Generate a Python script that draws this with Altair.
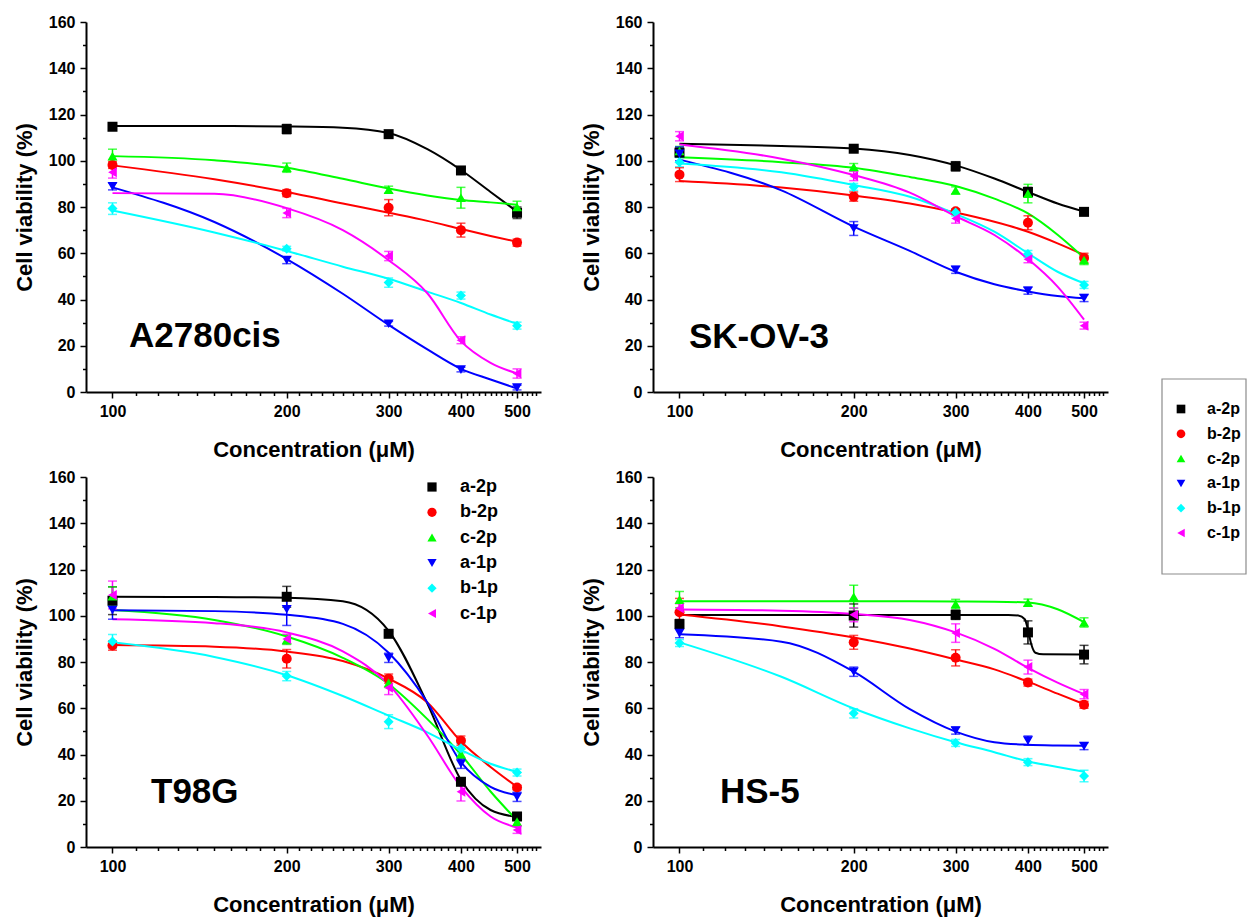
import altair as alt
import pandas as pd

FONT = "Liberation Sans, Arial, sans-serif"

SERIES = ["a-2p", "b-2p", "c-2p", "a-1p", "b-1p", "c-1p"]
COLORS = ["#000000", "#FF0000", "#00FF00", "#0000FF", "#00FFFF", "#FF00FF"]
SHAPES = ["square", "circle", "triangle-up", "triangle-down", "diamond", "triangle-left"]
COLOR_OF = dict(zip(SERIES, COLORS))

DOSE = [100, 200, 300, 400, 500]
FIT_X = [100, 150, 200, 250, 300, 350, 400, 450, 500]

PANELS = ["A2780cis", "SK-OV-3", "T98G", "HS-5"]

# mean cell viability (%) at each concentration
VIABILITY = {
    "A2780cis": {
        "a-2p": [114.7, 113.7, 111.5, 95.8, 77.5],
        "b-2p": [98.2, 86.0, 79.7, 70.0, 64.6],
        "c-2p": [102.0, 97.0, 87.5, 84.0, 80.0],
        "a-1p": [88.9, 57.0, 29.5, 9.7, 1.9],
        "b-1p": [79.3, 62.0, 47.3, 41.7, 28.7],
        "c-1p": [95.0, 77.4, 58.8, 22.4, 8.0],
    },
    "SK-OV-3": {
        "a-2p": [103.5, 105.2, 97.6, 86.5, 77.9],
        "b-2p": [94.0, 84.5, 78.2, 73.2, 58.0],
        "c-2p": [104.2, 97.3, 87.2, 85.8, 57.1],
        "a-1p": [103.0, 70.7, 52.8, 43.8, 40.6],
        "b-1p": [99.4, 88.7, 77.6, 59.7, 46.3],
        "c-1p": [110.6, 93.4, 75.0, 57.4, 28.7],
    },
    "T98G": {
        "a-2p": [106.5, 108.2, 92.2, 28.2, 13.2],
        "b-2p": [87.1, 81.4, 72.8, 46.0, 25.7],
        "c-2p": [108.5, 89.6, 71.0, 40.3, 11.0],
        "a-1p": [102.5, 102.8, 81.8, 36.0, 21.7],
        "b-1p": [88.9, 73.9, 54.2, 42.7, 32.2],
        "c-1p": [109.0, 90.0, 68.9, 23.9, 7.4],
    },
    "HS-5": {
        "a-2p": [96.4, 100.1, 100.4, 92.8, 83.2],
        "b-2p": [101.5, 88.5, 81.8, 71.1, 61.5],
        "c-2p": [107.0, 108.2, 105.1, 105.7, 97.1],
        "a-1p": [92.5, 75.8, 50.3, 46.0, 43.6],
        "b-1p": [88.2, 57.8, 45.0, 36.7, 30.7],
        "c-1p": [103.2, 100.4, 92.5, 77.8, 66.1],
    },
}

# standard deviations
SD = {
    "A2780cis": {
        "a-2p": [1.0, 2.0, 1.0, 1.0, 2.5],
        "b-2p": [1.5, 1.5, 3.5, 3.0, 1.5],
        "c-2p": [3.0, 2.0, 1.5, 4.5, 2.5],
        "a-1p": [1.5, 1.5, 1.0, 1.0, 1.0],
        "b-1p": [2.5, 1.0, 2.0, 1.5, 1.5],
        "c-1p": [2.5, 2.0, 2.0, 1.5, 2.0],
    },
    "SK-OV-3": {
        "a-2p": [2.0, 1.0, 2.0, 2.0, 1.0],
        "b-2p": [3.0, 2.0, 1.0, 3.0, 2.0],
        "c-2p": [2.0, 1.5, 1.5, 4.0, 2.0],
        "a-1p": [3.0, 3.0, 1.5, 1.5, 1.5],
        "b-1p": [2.0, 1.5, 1.5, 1.5, 1.5],
        "c-1p": [2.0, 2.0, 2.0, 1.5, 1.5],
    },
    "T98G": {
        "a-2p": [6.0, 4.5, 1.0, 1.5, 1.0],
        "b-2p": [2.0, 4.0, 2.0, 2.0, 1.0],
        "c-2p": [4.0, 2.0, 2.0, 2.0, 2.0],
        "a-1p": [4.0, 7.0, 2.0, 2.0, 2.0],
        "b-1p": [3.0, 2.0, 3.0, 2.0, 1.5],
        "c-1p": [6.0, 2.0, 3.0, 4.0, 1.5],
    },
    "HS-5": {
        "a-2p": [2.0, 5.0, 2.0, 5.0, 4.0],
        "b-2p": [6.0, 3.0, 3.5, 1.5, 1.5],
        "c-2p": [3.5, 5.0, 2.0, 1.5, 2.0],
        "a-1p": [2.0, 2.0, 1.5, 2.0, 1.5],
        "b-1p": [1.5, 2.0, 1.5, 1.5, 2.5],
        "c-1p": [2.0, 3.0, 4.0, 3.0, 2.0],
    },
}

# fitted dose-response curves sampled on FIT_X
FIT = {
    "A2780cis": {
        "a-2p": [115.0, 115.0, 114.8, 114.3, 112.0, 105.0, 96.0, 86.5, 78.0],
        "b-2p": [98.0, 92.0, 86.5, 81.5, 77.5, 74.0, 70.5, 67.5, 65.0],
        "c-2p": [102.0, 100.2, 97.0, 92.2, 88.0, 85.0, 83.0, 82.0, 81.0],
        "a-1p": [88.5, 73.5, 57.5, 42.5, 29.0, 18.4, 10.0, 5.4, 1.5],
        "b-1p": [78.5, 69.0, 61.0, 54.2, 49.0, 43.4, 38.5, 33.5, 29.5],
        "c-1p": [86.0, 85.7, 79.5, 70.0, 57.0, 42.7, 22.0, 12.6, 8.0],
    },
    "SK-OV-3": {
        "a-2p": [107.3, 106.4, 105.3, 102.5, 98.0, 92.3, 86.5, 81.5, 78.0],
        "b-2p": [91.2, 88.4, 85.0, 81.5, 77.6, 73.6, 69.3, 64.3, 59.3],
        "c-2p": [101.5, 99.4, 97.0, 93.0, 89.1, 83.6, 77.2, 68.0, 58.0],
        "a-1p": [100.5, 87.2, 71.5, 61.0, 52.0, 46.6, 43.5, 41.5, 40.5],
        "b-1p": [98.8, 95.0, 89.5, 84.4, 77.0, 69.3, 60.0, 52.0, 47.0],
        "c-1p": [107.0, 100.9, 93.8, 86.2, 76.0, 67.9, 57.5, 45.6, 31.3],
    },
    "T98G": {
        "a-2p": [108.2, 108.1, 107.8, 106.3, 93.5, 62.0, 29.0, 16.0, 13.0],
        "b-2p": [87.3, 86.6, 84.5, 80.4, 72.8, 62.5, 45.6, 34.6, 26.0],
        "c-2p": [102.5, 98.2, 91.0, 81.8, 70.5, 55.3, 40.0, 24.0, 11.5],
        "a-1p": [102.4, 102.0, 100.4, 96.5, 84.0, 62.5, 36.7, 26.0, 22.4],
        "b-1p": [88.5, 82.2, 74.3, 65.3, 56.8, 49.6, 42.0, 36.0, 32.5],
        "c-1p": [98.5, 96.8, 92.8, 84.6, 70.3, 48.2, 26.0, 13.2, 8.4],
    },
    "HS-5": {
        "a-2p": None,
        "b-2p": [100.5, 95.4, 90.6, 85.8, 81.1, 76.8, 71.5, 66.3, 61.8],
        "c-2p": [106.3, 106.3, 106.3, 106.3, 106.2, 106.1, 105.7, 102.8, 97.2],
        "a-1p": [92.0, 88.8, 75.8, 59.6, 49.9, 45.3, 44.2, 43.9, 43.8],
        "b-1p": [88.5, 73.6, 59.9, 51.3, 45.3, 41.0, 37.0, 34.6, 32.5],
        "c-1p": [102.7, 102.2, 100.8, 98.2, 92.8, 85.7, 77.5, 71.1, 66.1],
    },
}

# the a-2p fit on HS-5 drops sharply near 400 uM, so it gets a finer grid
HS5_A2P_FIT_X = [100, 200, 300, 370, 385, 395, 400, 405, 412, 425, 500]
HS5_A2P_FIT_Y = [100.3, 100.3, 100.3, 100.3, 100.1, 98.5, 94.0, 88.0, 84.0, 83.3, 83.2]

X_MINOR = [v for v in range(110, 550, 10) if v % 100 != 0]
Y_MAJOR = list(range(0, 161, 20))
Y_MINOR = list(range(10, 160, 20))

PANEL_W, PANEL_H = 455, 370

x_scale = alt.Scale(type="log", domain=[90, 550], nice=False)
y_scale = alt.Scale(domain=[0, 160], nice=False, zero=False)
color_scale = alt.Scale(domain=SERIES, range=COLORS)
shape_scale = alt.Scale(domain=SERIES, range=SHAPES)

x_major = alt.Axis(orient="bottom", values=DOSE, format="d", tickSize=6,
                   labelPadding=5, labelOverlap=False, labelFlush=False,
                   grid=False, title="Concentration (μM)", titlePadding=20)
x_minor = alt.Axis(orient="bottom", values=X_MINOR, tickSize=3.5, labels=False,
                   domain=False, grid=False, title=None)
y_major = alt.Axis(orient="left", values=Y_MAJOR, format="d", tickSize=6,
                   labelPadding=5, labelOverlap=False, grid=False,
                   title="Cell viability (%)", titlePadding=12)
y_minor = alt.Axis(orient="left", values=Y_MINOR, tickSize=3.5, labels=False,
                   domain=False, grid=False, title=None)


def points_frame(panel):
    rows = []
    for s in SERIES:
        for d, v, e in zip(DOSE, VIABILITY[panel][s], SD[panel][s]):
            rows.append({"series": s, "col": COLOR_OF[s], "dose": d,
                         "v": v, "lo": v - e, "hi": v + e})
    return pd.DataFrame(rows)


def fit_frame(panel):
    rows = []
    for s in SERIES:
        if panel == "HS-5" and s == "a-2p":
            xs, ys = HS5_A2P_FIT_X, HS5_A2P_FIT_Y
        else:
            xs, ys = FIT_X, FIT[panel][s]
        for d, v in zip(xs, ys):
            rows.append({"series": s, "col": COLOR_OF[s], "dose": d, "v": v})
    return pd.DataFrame(rows)


def panel_chart(panel, legend, label_x, label_y):
    pts = alt.Chart(points_frame(panel))
    # curves and error bars take their colour straight from the data, so only
    # the marker layer drives the legend
    stroke = alt.Stroke("col:N", scale=None)
    fill = alt.Fill("col:N", scale=None)

    curves = alt.Chart(fit_frame(panel)).mark_line(
        strokeWidth=2, interpolate="monotone"
    ).encode(
        x=alt.X("dose:Q", scale=x_scale, axis=x_major),
        y=alt.Y("v:Q", scale=y_scale, axis=y_major),
        stroke=stroke,
        detail="series:N",
    )

    bars = pts.mark_rule(strokeWidth=1.5).encode(
        x=alt.X("dose:Q", scale=x_scale, axis=None),
        y=alt.Y("lo:Q", scale=y_scale, axis=None),
        y2="hi:Q",
        stroke=stroke,
    )
    caps_lo = pts.mark_tick(orient="horizontal", size=9, thickness=1.5).encode(
        x=alt.X("dose:Q", scale=x_scale, axis=x_minor),
        y=alt.Y("lo:Q", scale=y_scale, axis=y_minor),
        fill=fill,
    )
    caps_hi = pts.mark_tick(orient="horizontal", size=9, thickness=1.5).encode(
        x=alt.X("dose:Q", scale=x_scale, axis=None),
        y=alt.Y("hi:Q", scale=y_scale, axis=None),
        fill=fill,
    )

    marks = pts.mark_point(filled=True, size=100, opacity=1).encode(
        x=alt.X("dose:Q", scale=x_scale, axis=None),
        y=alt.Y("v:Q", scale=y_scale, axis=None),
        color=alt.Color("series:N", scale=color_scale, legend=legend),
        shape=alt.Shape("series:N", scale=shape_scale, legend=legend),
    )

    name = alt.Chart(pd.DataFrame({"t": [panel]})).mark_text(
        align="left", baseline="alphabetic", fontSize=35, fontWeight="bold",
        font=FONT, color="black",
    ).encode(x=alt.value(label_x), y=alt.value(label_y), text="t:N")

    layers = [curves, bars, caps_lo, caps_hi, marks, name]
    return alt.layer(*layers).resolve_axis(x="independent", y="independent").properties(
        width=PANEL_W, height=PANEL_H
    )


inner_legend = alt.Legend(
    title=None, orient="none", legendX=337, legendY=1, padding=0,
    symbolSize=85, symbolStrokeWidth=0, labelFont=FONT, labelFontSize=18,
    labelFontWeight="bold", labelColor="black", labelOffset=19, rowPadding=7.3,
)
side_legend = alt.Legend(
    title=None, orient="none", legendX=520, legendY=379, padding=0,
    symbolSize=75, symbolStrokeWidth=0, labelFont=FONT, labelFontSize=16,
    labelFontWeight="bold", labelColor="black", labelOffset=18, rowPadding=8.8,
)

p1 = panel_chart("A2780cis", None, 43, 325)
p2_core = panel_chart("SK-OV-3", side_legend, 36, 326)

# frame around the side legend, to the right of the SK-OV-3 panel
legend_frame = alt.Chart(pd.DataFrame({"k": [0]})).mark_rect(
    filled=False, stroke="#8c8c8c", strokeWidth=1.2
).encode(x=alt.value(509), x2=alt.value(593), y=alt.value(357), y2=alt.value(552))
p2 = alt.layer(p2_core, legend_frame).properties(width=PANEL_W, height=PANEL_H)

p3 = panel_chart("T98G", inner_legend, 65, 326)
p4 = panel_chart("HS-5", None, 67, 326)

chart = alt.concat(
    p1, p2, p3, p4, columns=2, spacing={"row": 85, "column": 112}, bounds="flush"
).resolve_scale(
    color="independent", shape="independent"
).resolve_legend(
    color="independent", shape="independent"
).properties(
    padding={"left": 13, "top": 14, "right": 0, "bottom": 2},
    background="white",
).configure_view(
    stroke=None
).configure_axis(
    domainColor="black", domainWidth=2, tickColor="black", tickWidth=1.5,
    labelFont=FONT, labelFontSize=16, labelFontWeight="bold", labelColor="black",
    titleFont=FONT, titleFontSize=22, titleFontWeight="bold", titleColor="black",
)

chart.save("out.html", embed_options={"renderer": "svg", "actions": False})
